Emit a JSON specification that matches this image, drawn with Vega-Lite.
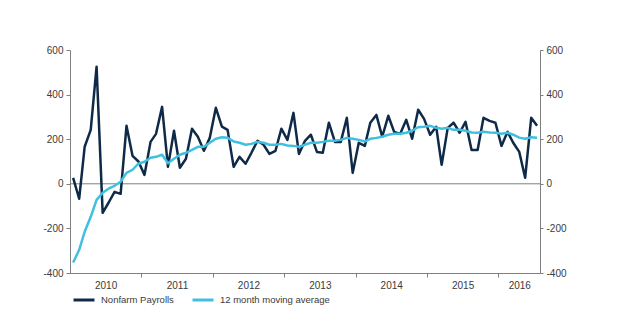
{
  "$schema": "https://vega.github.io/schema/vega-lite/v6.json",
  "width": 470,
  "height": 223,
  "autosize": {"type": "none"},
  "padding": {"left": 70, "top": 50, "right": 100, "bottom": 56},
  "background": "white",
  "config": {
    "view": {"stroke": null},
    "font": "Liberation Sans",
    "axis": {"labelFont": "Liberation Sans", "labelFontSize": 10, "labelColor": "#3a3a3a", "domainColor": "#7f7f7f", "tickColor": "#7f7f7f", "grid": false, "title": null},
    "legend": {"labelFont": "Liberation Sans", "labelFontSize": 9.5, "labelColor": "#3a3a3a"}
  },
  "data": {"values": [
    {"date": "2010-01-01", "Nonfarm Payrolls": 27, "12 month moving average": -353},
    {"date": "2010-02-01", "Nonfarm Payrolls": -67, "12 month moving average": -296},
    {"date": "2010-03-01", "Nonfarm Payrolls": 166, "12 month moving average": -215},
    {"date": "2010-04-01", "Nonfarm Payrolls": 242, "12 month moving average": -148},
    {"date": "2010-05-01", "Nonfarm Payrolls": 525, "12 month moving average": -72},
    {"date": "2010-06-01", "Nonfarm Payrolls": -130, "12 month moving average": -40},
    {"date": "2010-07-01", "Nonfarm Payrolls": -85, "12 month moving average": -22},
    {"date": "2010-08-01", "Nonfarm Payrolls": -36, "12 month moving average": -9},
    {"date": "2010-09-01", "Nonfarm Payrolls": -45, "12 month moving average": 9},
    {"date": "2010-10-01", "Nonfarm Payrolls": 260, "12 month moving average": 49},
    {"date": "2010-11-01", "Nonfarm Payrolls": 125, "12 month moving average": 63},
    {"date": "2010-12-01", "Nonfarm Payrolls": 100, "12 month moving average": 90},
    {"date": "2011-01-01", "Nonfarm Payrolls": 40, "12 month moving average": 99},
    {"date": "2011-02-01", "Nonfarm Payrolls": 188, "12 month moving average": 117},
    {"date": "2011-03-01", "Nonfarm Payrolls": 224, "12 month moving average": 121},
    {"date": "2011-04-01", "Nonfarm Payrolls": 345, "12 month moving average": 130},
    {"date": "2011-05-01", "Nonfarm Payrolls": 76, "12 month moving average": 92},
    {"date": "2011-06-01", "Nonfarm Payrolls": 238, "12 month moving average": 112},
    {"date": "2011-07-01", "Nonfarm Payrolls": 72, "12 month moving average": 130},
    {"date": "2011-08-01", "Nonfarm Payrolls": 112, "12 month moving average": 139},
    {"date": "2011-09-01", "Nonfarm Payrolls": 247, "12 month moving average": 152},
    {"date": "2011-10-01", "Nonfarm Payrolls": 211, "12 month moving average": 166},
    {"date": "2011-11-01", "Nonfarm Payrolls": 148, "12 month moving average": 166},
    {"date": "2011-12-01", "Nonfarm Payrolls": 206, "12 month moving average": 184},
    {"date": "2012-01-01", "Nonfarm Payrolls": 341, "12 month moving average": 202},
    {"date": "2012-02-01", "Nonfarm Payrolls": 256, "12 month moving average": 209},
    {"date": "2012-03-01", "Nonfarm Payrolls": 242, "12 month moving average": 206},
    {"date": "2012-04-01", "Nonfarm Payrolls": 76, "12 month moving average": 190},
    {"date": "2012-05-01", "Nonfarm Payrolls": 121, "12 month moving average": 184},
    {"date": "2012-06-01", "Nonfarm Payrolls": 90, "12 month moving average": 175},
    {"date": "2012-07-01", "Nonfarm Payrolls": 139, "12 month moving average": 179},
    {"date": "2012-08-01", "Nonfarm Payrolls": 193, "12 month moving average": 188},
    {"date": "2012-09-01", "Nonfarm Payrolls": 175, "12 month moving average": 184},
    {"date": "2012-10-01", "Nonfarm Payrolls": 134, "12 month moving average": 175},
    {"date": "2012-11-01", "Nonfarm Payrolls": 148, "12 month moving average": 175},
    {"date": "2012-12-01", "Nonfarm Payrolls": 247, "12 month moving average": 179},
    {"date": "2013-01-01", "Nonfarm Payrolls": 197, "12 month moving average": 172},
    {"date": "2013-02-01", "Nonfarm Payrolls": 318, "12 month moving average": 170},
    {"date": "2013-03-01", "Nonfarm Payrolls": 134, "12 month moving average": 166},
    {"date": "2013-04-01", "Nonfarm Payrolls": 193, "12 month moving average": 175},
    {"date": "2013-05-01", "Nonfarm Payrolls": 220, "12 month moving average": 184},
    {"date": "2013-06-01", "Nonfarm Payrolls": 143, "12 month moving average": 184},
    {"date": "2013-07-01", "Nonfarm Payrolls": 139, "12 month moving average": 188},
    {"date": "2013-08-01", "Nonfarm Payrolls": 274, "12 month moving average": 193},
    {"date": "2013-09-01", "Nonfarm Payrolls": 188, "12 month moving average": 193},
    {"date": "2013-10-01", "Nonfarm Payrolls": 188, "12 month moving average": 197},
    {"date": "2013-11-01", "Nonfarm Payrolls": 296, "12 month moving average": 206},
    {"date": "2013-12-01", "Nonfarm Payrolls": 49, "12 month moving average": 202},
    {"date": "2014-01-01", "Nonfarm Payrolls": 184, "12 month moving average": 197},
    {"date": "2014-02-01", "Nonfarm Payrolls": 170, "12 month moving average": 190},
    {"date": "2014-03-01", "Nonfarm Payrolls": 274, "12 month moving average": 202},
    {"date": "2014-04-01", "Nonfarm Payrolls": 309, "12 month moving average": 206},
    {"date": "2014-05-01", "Nonfarm Payrolls": 211, "12 month moving average": 211},
    {"date": "2014-06-01", "Nonfarm Payrolls": 305, "12 month moving average": 220},
    {"date": "2014-07-01", "Nonfarm Payrolls": 233, "12 month moving average": 224},
    {"date": "2014-08-01", "Nonfarm Payrolls": 224, "12 month moving average": 224},
    {"date": "2014-09-01", "Nonfarm Payrolls": 287, "12 month moving average": 229},
    {"date": "2014-10-01", "Nonfarm Payrolls": 202, "12 month moving average": 238},
    {"date": "2014-11-01", "Nonfarm Payrolls": 332, "12 month moving average": 254},
    {"date": "2014-12-01", "Nonfarm Payrolls": 291, "12 month moving average": 256},
    {"date": "2015-01-01", "Nonfarm Payrolls": 220, "12 month moving average": 260},
    {"date": "2015-02-01", "Nonfarm Payrolls": 256, "12 month moving average": 251},
    {"date": "2015-03-01", "Nonfarm Payrolls": 85, "12 month moving average": 247},
    {"date": "2015-04-01", "Nonfarm Payrolls": 251, "12 month moving average": 251},
    {"date": "2015-05-01", "Nonfarm Payrolls": 274, "12 month moving average": 242},
    {"date": "2015-06-01", "Nonfarm Payrolls": 229, "12 month moving average": 242},
    {"date": "2015-07-01", "Nonfarm Payrolls": 278, "12 month moving average": 238},
    {"date": "2015-08-01", "Nonfarm Payrolls": 152, "12 month moving average": 230},
    {"date": "2015-09-01", "Nonfarm Payrolls": 152, "12 month moving average": 229},
    {"date": "2015-10-01", "Nonfarm Payrolls": 296, "12 month moving average": 233},
    {"date": "2015-11-01", "Nonfarm Payrolls": 282, "12 month moving average": 230},
    {"date": "2015-12-01", "Nonfarm Payrolls": 274, "12 month moving average": 229},
    {"date": "2016-01-01", "Nonfarm Payrolls": 170, "12 month moving average": 224},
    {"date": "2016-02-01", "Nonfarm Payrolls": 233, "12 month moving average": 229},
    {"date": "2016-03-01", "Nonfarm Payrolls": 184, "12 month moving average": 220},
    {"date": "2016-04-01", "Nonfarm Payrolls": 143, "12 month moving average": 207},
    {"date": "2016-05-01", "Nonfarm Payrolls": 27, "12 month moving average": 202},
    {"date": "2016-06-01", "Nonfarm Payrolls": 296, "12 month moving average": 209},
    {"date": "2016-07-01", "Nonfarm Payrolls": 260, "12 month moving average": 207}
  ]},
  "transform": [{"fold": ["Nonfarm Payrolls", "12 month moving average"], "as": ["series", "value"]}],
  "layer": [
    {
      "data": {"values": [{"zero": 0}]},
      "transform": [],
      "mark": {"type": "rule", "color": "#7f7f7f", "strokeWidth": 1},
      "encoding": {
        "y": {"field": "zero", "type": "quantitative", "scale": {"domain": [-400, 600]}, "axis": null}
      }
    },
    {
      "mark": {"type": "line", "strokeWidth": 2.5, "strokeJoin": "round"},
      "encoding": {
        "x": {
          "field": "date", "type": "temporal",
          "scale": {"type": "utc", "domain": ["2009-12-16", "2016-07-16"]},
          "axis": {"orient": "bottom", "values": ["2010-12-16", "2011-12-16", "2012-12-16", "2013-12-16", "2014-12-16", "2015-12-16"], "labels": false, "ticks": true, "tickSize": 4, "domain": true}
        },
        "y": {
          "field": "value", "type": "quantitative",
          "scale": {"domain": [-400, 600]},
          "axis": {"orient": "left", "values": [-400, -200, 0, 200, 400, 600], "labelExpr": "datum.value + ''", "tickSize": 4, "labelPadding": 3, "domain": true}
        },
        "color": {
          "field": "series", "type": "nominal",
          "scale": {"domain": ["Nonfarm Payrolls", "12 month moving average"], "range": ["#0f2a48", "#40c0e0"]},
          "sort": ["Nonfarm Payrolls", "12 month moving average"],
          "legend": {"title": null, "orient": "none", "legendX": 2, "legendY": 238, "direction": "horizontal", "symbolType": "stroke", "symbolStrokeWidth": 3, "symbolSize": 440, "labelOffset": 5, "columnPadding": 12}
        }
      }
    },
    {
      "mark": {"type": "line", "opacity": 0},
      "encoding": {
        "x": {
          "field": "date", "type": "temporal",
          "scale": {"type": "utc", "domain": ["2009-12-16", "2016-07-16"]},
          "axis": {"orient": "bottom", "values": ["2010-06-16", "2011-06-16", "2012-06-16", "2013-06-16", "2014-06-16", "2015-06-16", "2016-04-01"], "format": "%Y", "ticks": false, "tickSize": 0, "domain": false, "labelPadding": 7}
        },
        "y": {
          "field": "value", "type": "quantitative",
          "scale": {"domain": [-400, 600]},
          "axis": {"orient": "right", "values": [-400, -200, 0, 200, 400, 600], "labelExpr": "datum.value + ''", "tickSize": 3, "labelPadding": 3, "domain": true}
        },
        "detail": {"field": "series"}
      }
    }
  ],
  "resolve": {"axis": {"x": "independent", "y": "independent"}}
}
